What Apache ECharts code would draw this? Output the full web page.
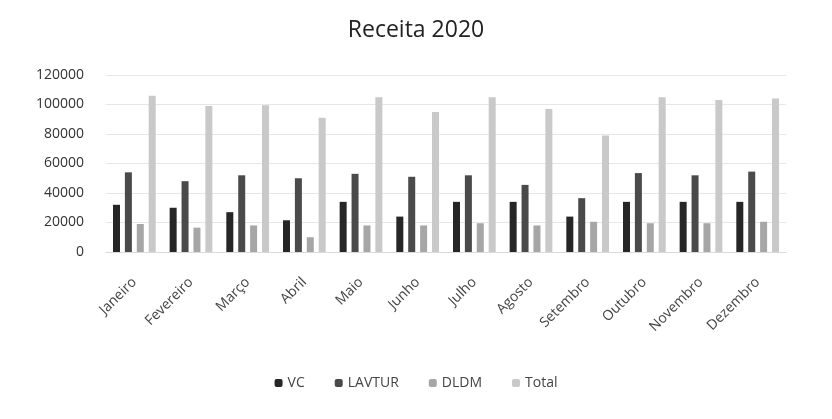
<!DOCTYPE html>
<html>
<head>
<meta charset="utf-8">
<script src="https://cdn.jsdelivr.net/npm/echarts@6/dist/echarts.min.js"></script>
<style>
  html, body { margin: 0; padding: 0; background: #fff; }
  #chart { width: 832px; height: 419px; }
</style>
</head>
<body>
<div id="chart"></div>
<script>
// meses
var months = ['Janeiro', 'Fevereiro', 'Março', 'Abril', 'Maio', 'Junho',
  'Julho', 'Agosto', 'Setembro', 'Outubro', 'Novembro', 'Dezembro'];
var seriesNames = ['VC', 'LAVTUR', 'DLDM', 'Total'];
// valores
var vc = [32000, 30000, 27000, 21500, 34000, 24000, 34000, 34000, 24000, 34000, 34000, 34000];
var lavtur = [54000, 48000, 52000, 50000, 53000, 51000, 52000, 45500, 36500, 53500, 52000, 54500];
var dldm = [19000, 16500, 18000, 10000, 18000, 18000, 19500, 18000, 20500, 19500, 19500, 20500];
var total = [106000, 99000, 99500, 91000, 105000, 95000, 105000, 97000, 79000, 105000, 103000, 104000];
var yTicks = [0, 20000, 40000, 60000, 80000, 100000, 120000];

var colors = ['#262626', '#4a4a4a', '#a6a6a6', '#c9c9c9'];
var values = [vc, lavtur, dldm, total];

var chart = echarts.init(document.getElementById('chart'));
chart.setOption({
  animation: false,
  color: colors,
  title: {
    text: 'Receita 2020',
    left: 'center',
    top: 14,
    textStyle: { fontFamily: 'Open Sans', fontSize: 23, fontWeight: 'normal', color: '#222' }
  },
  legend: {
    data: seriesNames,
    bottom: 24,
    left: 'center',
    itemWidth: 8,
    itemHeight: 8,
    itemGap: 30,
    textStyle: { fontFamily: 'Open Sans', fontSize: 14, color: '#444' }
  },
  grid: { left: 106, right: 46, top: 75, bottom: 167 },
  xAxis: {
    type: 'category',
    data: months,
    axisLine: { lineStyle: { color: '#d9d9d9' } },
    axisTick: { show: false },
    axisLabel: {
      rotate: 45,
      margin: 28,
      interval: 0,
      fontFamily: 'Open Sans',
      fontSize: 14,
      color: '#444'
    }
  },
  yAxis: {
    type: 'value',
    min: yTicks[0],
    max: yTicks[yTicks.length - 1],
    interval: 20000,
    axisLine: { show: false },
    axisTick: { show: false },
    splitLine: { lineStyle: { color: '#e6e6e6' } },
    axisLabel: {
      margin: 22,
      fontFamily: 'Open Sans',
      fontSize: 14,
      color: '#333',
      formatter: function (v) { return String(v); }
    }
  },
  series: seriesNames.map(function (name, i) {
    return {
      name: name,
      type: 'bar',
      barWidth: 7,
      barGap: '70%',
      data: values[i]
    };
  })
});
</script>
</body>
</html>
